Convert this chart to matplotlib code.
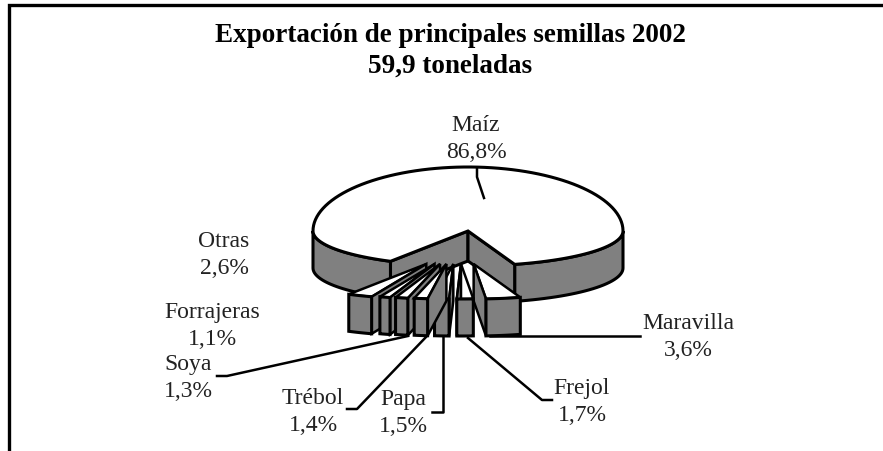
import math
import matplotlib
matplotlib.use("Agg")
import matplotlib.pyplot as plt
from matplotlib.patches import Polygon

# order runs counter clockwise from the left end of the cut
labels = ["Otras", "Forrajeras", "Soya", "Trébol", "Papa", "Frejol", "Maravilla"]
shares = [2.6, 1.1, 1.3, 1.4, 1.5, 1.7, 3.6]
main_label = "Maíz"
main_share = 86.8
title = "Exportación de principales semillas 2002\n59,9 toneladas"

GREY = "#808080"
LW = 2.2

# pie geometry in pixels, y pointing down
CX, CY = 468, 232
RX, RY_TOP, RY_BOT = 155, 64, 35
DEPTH = 37
CUT_START = 240


def rim(t, dx=0, dy=0):
    # t in degrees, counter clockwise from the right. front half is squashed
    s = math.sin(math.radians(t))
    ry = RY_TOP if s > 0 else RY_BOT
    return (CX + dx + RX * math.cos(math.radians(t)), CY + dy - ry * s)


def arc(t0, t1, dx=0, dy=0, n=30):
    return [rim(t0 + (t1 - t0) * i / n, dx, dy) for i in range(n + 1)]


def poly(ax, pts, fc, z, lw=LW):
    ax.add_patch(Polygon(pts, closed=True, fc=fc, ec="black", lw=lw, joinstyle="miter", zorder=z))


def draw_main(ax):
    sweep = main_share / 100 * 360
    start = CUT_START + sum(shares) / 100 * 360
    end = start + sweep
    # outer wall either side of the cut
    poly(ax, arc(start, 360) + arc(360, start, dy=DEPTH), GREY, 2)
    poly(ax, arc(180, end - 360) + arc(end - 360, 180, dy=DEPTH), GREY, 2)
    # cut walls
    a, b = rim(end), rim(start)
    poly(ax, [(CX, CY), a, (a[0], a[1] + 30), (CX, CY + 30)], GREY, 3)
    poly(ax, [(CX, CY), b, (b[0], b[1] + 30), (CX, CY + 30)], GREY, 3)
    poly(ax, [(CX, CY)] + arc(start, end, n=120), "white", 4)


def draw_small(ax):
    # slices pulled out of the cut, every one moved along its own middle angle
    t = CUT_START
    slices = []
    for v in shares:
        sweep = v / 100 * 360
        slices.append((t, t + sweep))
        t += sweep
    # outer ones first so the ones near the centre overlap them
    order = [0, 6, 1, 5, 2, 4, 3]
    for z, i in enumerate(order):
        t0, t1 = slices[i]
        mid = (t0 + t1) / 2
        dx = -9 + 76.5 * math.cos(math.radians(mid))
        dy = 33
        apex = (CX + dx, CY + dy)
        zz = 10 + z
        poly(ax, [apex] + arc(t0, t1, dx, dy, n=8), "white", zz, lw=1.8)
        # radial wall that faces the viewer
        edge = rim(t1, dx, dy) if rim(t1, dx, dy)[0] < apex[0] + 4 else rim(t0, dx, dy)
        poly(ax, [apex, edge, (edge[0], edge[1] + DEPTH), (apex[0], apex[1] + DEPTH)], GREY, zz + 0.2, lw=1.8)
        poly(ax, arc(t0, t1, dx, dy, n=8) + arc(t1, t0, dx, dy + DEPTH, n=8), GREY, zz + 0.4)


fig = plt.figure(figsize=(8.83, 4.52), dpi=100)
ax = fig.add_axes([0, 0, 1, 1])
ax.set_xlim(0, 883)
ax.set_ylim(452, 0)
ax.axis("off")

# frame, only left and top are in the crop
ax.plot([9, 9, 883], [452, 6, 6], color="black", lw=2.4, solid_joinstyle="miter", zorder=1)

draw_main(ax)
draw_small(ax)

# leader lines
leaders = [
    [(477, 170), (477, 178), (484, 199)],
    [(640, 337), (490, 337)],
    [(552, 401), (542, 401), (468, 339)],
    [(432, 413), (443, 413), (443, 337)],
    [(347, 410), (357, 410), (427, 337)],
    [(217, 377), (227, 377), (408, 337)],
]
for pts in leaders:
    ax.plot([p[0] for p in pts], [p[1] for p in pts], color="black", lw=1.8, zorder=30)

font = "Liberation Serif"
ax.text(450, 51, title, ha="center", va="center", family=font, fontweight="bold",
        fontsize=19.5, linespacing=1.3, color="black", zorder=40)

values = dict(zip(labels, shares))
label_pos = {
    "Maravilla": (688, 337), "Frejol": (582, 402), "Papa": (403, 413), "Trébol": (313, 412),
    "Soya": (188, 378), "Forrajeras": (212, 326), "Otras": (224, 255),
}


def fmt(v):
    return f"{v:.1f}%".replace(".", ",")


ax.text(476, 139, f"{main_label}\n{fmt(main_share)}", ha="center", va="center", family=font,
        fontsize=17, linespacing=1.42, color="#222222", zorder=40)
for name in labels:
    x, y = label_pos[name]
    ax.text(x, y, f"{name}\n{fmt(values[name])}", ha="center", va="center", family=font,
            fontsize=17, linespacing=1.42, color="#222222", zorder=40)

plt.savefig("out.png", dpi=100)
plt.close()
